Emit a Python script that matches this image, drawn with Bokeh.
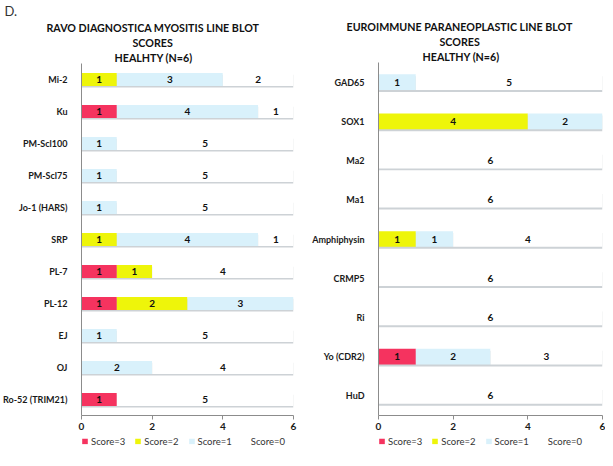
from bokeh.plotting import figure
from bokeh.models import (ColumnDataSource, FactorRange, Range1d, Title, Legend,
                          LegendItem, FixedTicker)
from bokeh.layouts import row, column
from bokeh.embed import file_html
from bokeh.resources import INLINE
from bokeh.core.properties import value
from bokeh.transform import dodge

# ---------------- data ----------------
left_antigens = ["Mi-2", "Ku", "PM-Scl100", "PM-Scl75", "Jo-1 (HARS)", "SRP",
                 "PL-7", "PL-12", "EJ", "OJ", "Ro-52 (TRIM21)"]
left_score3 = [0, 1, 0, 0, 0, 0, 1, 1, 0, 0, 1]
left_score2 = [1, 0, 0, 0, 0, 1, 1, 2, 0, 0, 0]
left_score1 = [3, 4, 1, 1, 1, 4, 0, 3, 1, 2, 0]
left_score0 = [2, 1, 5, 5, 5, 1, 4, 0, 5, 4, 5]

right_antigens = ["GAD65", "SOX1", "Ma2", "Ma1", "Amphiphysin", "CRMP5", "Ri",
                  "Yo (CDR2)", "HuD"]
right_score3 = [0, 0, 0, 0, 0, 0, 0, 1, 0]
right_score2 = [0, 4, 0, 0, 1, 0, 0, 0, 0]
right_score1 = [1, 2, 0, 0, 1, 0, 0, 2, 0]
right_score0 = [5, 0, 6, 6, 4, 6, 6, 3, 6]

panel_letter = "D."
left_titles = ["RAVO DIAGNOSTICA MYOSITIS LINE BLOT", "SCORES", "HEALHTY (N=6)"]
right_titles = ["EUROIMMUNE PARANEOPLASTIC LINE BLOT", "SCORES", "HEALTHY (N=6)"]

x_ticks = [0, 2, 4, 6]
score_names = ["Score=3", "Score=2", "Score=1", "Score=0"]
score_colors = ["#f5335f", "#eef50a", "#d9f1fb", "#ffffff"]

FONT = "Lato"
MAIN_H = 432
LEG_H = 18


def make_main(antigens, s3, s2, s1, s0, width, mbl, mbr, titles, offsets,
              letter=None):
    keys = ["s3", "s2", "s1", "s0"]
    totals = [a + b + c + d for a, b, c, d in zip(s3, s2, s1, s0)]
    src = ColumnDataSource(dict(antigen=antigens, s3=s3, s2=s2, s1=s1, s0=s0,
                                total=totals))
    p = figure(width=width, height=MAIN_H, output_backend="svg",
               toolbar_location=None, title=None,
               y_range=FactorRange(factors=list(reversed(antigens)), range_padding=0),
               x_range=Range1d(0, 6), min_border_left=mbl, min_border_right=mbr,
               min_border_top=62, min_border_bottom=0)
    p.outline_line_color = None
    p.xgrid.visible = False
    p.ygrid.visible = False

    # bar shadow
    p.hbar(y=dodge("antigen", -0.05, range=p.y_range), left=0, right="total",
           height=0.4, source=src, color="#cdd2d6", line_color=None)
    p.hbar_stack(keys, y="antigen", height=0.4, source=src,
                 color=score_colors, line_color=None)

    lab_x, lab_y, lab_t = [], [], []
    for i, a in enumerate(antigens):
        left = 0
        for v in (s3[i], s2[i], s1[i], s0[i]):
            if v > 0:
                lab_x.append(left + v / 2)
                lab_y.append(a)
                lab_t.append(str(v))
            left += v
    p.text(x=lab_x, y=lab_y, text=lab_t, text_align="center",
           text_baseline="middle", text_font=value(FONT), text_font_style="bold",
           text_font_size="10px", text_color="#111111")

    p.yaxis.axis_line_color = "#8c8c8c"
    p.yaxis.major_tick_line_color = None
    p.yaxis.major_label_text_font = FONT
    p.yaxis.major_label_text_font_style = "bold"
    p.yaxis.major_label_text_font_size = "9px"
    p.yaxis.major_label_text_color = "#1a1a1a"
    p.yaxis.major_label_standoff = 8
    p.xaxis.axis_line_color = "#8c8c8c"
    p.xaxis.ticker = FixedTicker(ticks=x_ticks)
    p.xaxis.major_tick_in = 0
    p.xaxis.major_tick_out = 4
    p.xaxis.major_tick_line_color = "#8c8c8c"
    p.xaxis.minor_tick_line_color = None
    p.xaxis.major_label_text_font = FONT
    p.xaxis.major_label_text_font_style = "bold"
    p.xaxis.major_label_text_font_size = "10px"
    p.xaxis.major_label_text_color = "#1a1a1a"
    p.xaxis.major_label_standoff = 3

    # titles: first added sits closest to the plot
    for t, off in zip(reversed(titles), reversed(offsets)):
        p.add_layout(Title(text=t, align="left", offset=off, text_font=FONT,
                           text_font_style="bold", text_font_size="10.7px",
                           text_color="#111111", standoff=0), "above")
    if letter:
        p.add_layout(Title(text=letter, align="left", offset=-77, text_font=FONT,
                           text_font_style="normal", text_font_size="13px",
                           text_color="#333333", standoff=0), "above")
    return p


def make_legend(width, mbl, mbr):
    lf = figure(width=width, height=LEG_H, output_backend="svg",
                toolbar_location=None, title=None, x_axis_type=None,
                y_axis_type=None, x_range=Range1d(0, 1), y_range=Range1d(0, 1),
                min_border=0, min_border_left=mbl, min_border_right=mbr)
    lf.outline_line_color = None
    rs = [lf.hbar(y=[-10], left=[0], right=[1], height=1, color=c, line_color=None)
          for c in score_colors]
    items = [LegendItem(label=n, renderers=[r]) for n, r in zip(score_names, rs)]
    legend = Legend(items=items, orientation="horizontal", location="left",
                    glyph_width=7, glyph_height=7, label_text_font=FONT,
                    label_text_font_size="9.5px", label_text_color="#333333",
                    label_height=10, spacing=9, label_standoff=3, padding=0,
                    margin=0, border_line_color=None, background_fill_alpha=0)
    lf.add_layout(legend)
    return lf


m1 = make_main(left_antigens, left_score3, left_score2, left_score1, left_score0,
               300, 79, 7, left_titles, [-35, 51, 33], panel_letter)
l1 = make_legend(300, 79, 7)

m2 = make_main(right_antigens, right_score3, right_score2, right_score1,
               right_score0, 305, 78, 3, right_titles, [-32, 61, 44])
l2 = make_legend(305, 78, 3)

layout = row(column(m1, l1), column(m2, l2))
open("out.html", "w").write(file_html(layout, INLINE))
